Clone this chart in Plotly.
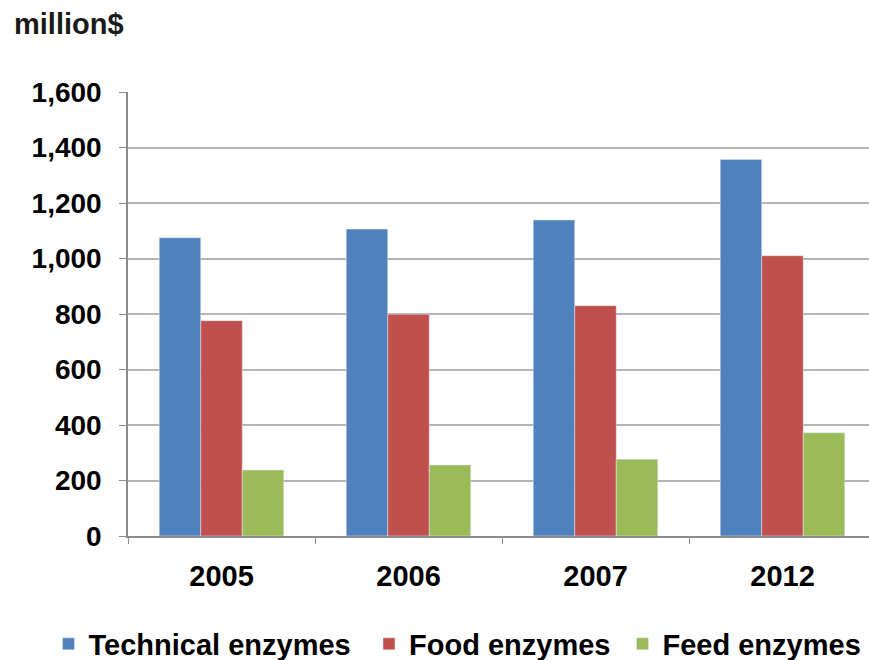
import plotly.graph_objects as go

# Enzyme market value by segment (million $)
years = ["2005", "2006", "2007", "2012"]
technical = [1075, 1106, 1139, 1357]
food = [776, 799, 830, 1010]
feed = [238, 256, 277, 372]
y_ticks = [0, 200, 400, 600, 800, 1000, 1200, 1400, 1600]
y_tick_text = ["0", "200", "400", "600", "800", "1,000", "1,200", "1,400", "1,600"]

FONT = "Liberation Sans, Arial, Helvetica, sans-serif"
W, H = 869, 660
ML, MT, MB = 128, 92, 124
plot_w = W - ML
plot_h = H - MT - MB

series = [
    ("Technical enzymes", technical, "#4F81BD", "legend", 48.5),
    ("Food enzymes", food, "#C0504D", "legend2", 369),
    ("Feed enzymes", feed, "#9BBB59", "legend3", 622.5),
]

fig = go.Figure()
legend_layout = {}
for name, values, color, leg, left_px in series:
    fig.add_trace(go.Bar(name=name, x=years, y=values, marker_color=color, legend=leg))
    # one single-entry legend per series, placed along the bottom row
    legend_layout[leg] = dict(
        orientation="h", xref="container", yref="container",
        x=left_px / W, xanchor="left",
        y=1 - 644 / H, yanchor="middle",
        font=dict(family=FONT, size=29, color="#000000", weight=700),
        bgcolor="rgba(0,0,0,0)", borderwidth=0,
    )

cat_px = 187.0
fig.update_layout(
    width=W, height=H,
    margin=dict(l=ML, r=0, t=MT, b=MB, pad=0, autoexpand=False),
    paper_bgcolor="white", plot_bgcolor="white",
    barmode="group", bargap=0.334, bargroupgap=0,
    font=dict(family=FONT, color="#000000", size=29, weight=700),
    showlegend=True,
    xaxis=dict(
        range=[-0.5, -0.5 + plot_w / cat_px],
        showline=True, linecolor="#8C8C8C", linewidth=1.5,
        ticks="outside", tickson="boundaries", ticklen=6, tickcolor="#8C8C8C",
        ticklabelstandoff=13,
        tickfont=dict(family=FONT, size=29, color="#000000", weight=700),
        showgrid=False, zeroline=False, fixedrange=True,
    ),
    yaxis=dict(
        range=[0, 1600], tickvals=y_ticks, ticktext=y_tick_text,
        showline=True, linecolor="#8C8C8C", linewidth=1.5,
        ticks="outside", ticklen=7, tickcolor="#8C8C8C",
        ticklabelstandoff=12,
        tickfont=dict(family=FONT, size=28, color="#000000", weight=700),
        showgrid=True, gridcolor="#B4B4B4", gridwidth=1.5,
        zeroline=False, fixedrange=True,
    ),
    **legend_layout,
)

fig.add_annotation(
    text="million$", xref="paper", yref="paper",
    x=(12 - ML) / plot_w, xanchor="left",
    y=(MT + plot_h - 24) / plot_h, yanchor="middle",
    showarrow=False,
    font=dict(family=FONT, size=29, color="#1A1A1A", weight=700),
)

fig.write_html("out.html")
